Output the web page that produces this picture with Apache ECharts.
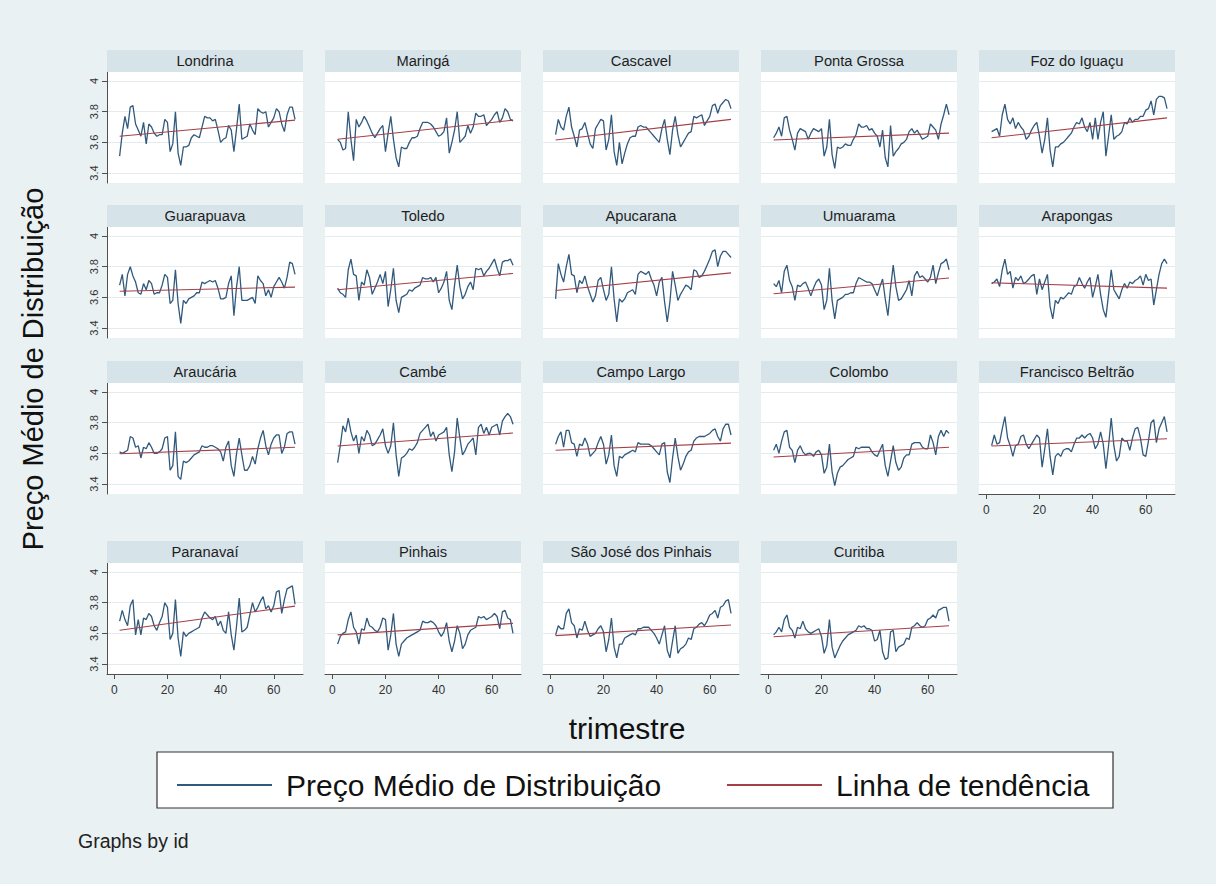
<!DOCTYPE html>
<html>
<head>
<meta charset="utf-8">
<title>Preço Médio de Distribuição por município</title>
<script src="https://cdn.jsdelivr.net/npm/echarts@6/dist/echarts.min.js"></script>
<style>
  html, body { margin: 0; padding: 0; background: #eaf1f3; }
  #chart { width: 1216px; height: 884px; }
</style>
</head>
<body>
<div id="chart"></div>
<script>
// Panel order (row by row) and quarterly average distribution prices, trimestre 2..68
const cities = [
  'Londrina', 'Maringá', 'Cascavel', 'Ponta Grossa', 'Foz do Iguaçu',
  'Guarapuava', 'Toledo', 'Apucarana', 'Umuarama', 'Arapongas',
  'Araucária', 'Cambé', 'Campo Largo', 'Colombo', 'Francisco Beltrão',
  'Paranavaí', 'Pinhais', 'São José dos Pinhais', 'Curitiba'
];
const firstQuarter = 2;

const londrina = [3.51,3.66,3.77,3.69,3.83,3.84,3.72,3.68,3.64,3.73, 3.59,3.72,3.70,3.66,3.64,3.65,3.65,3.75,3.73,3.54, 3.59,3.80,3.53,3.45,3.57,3.57,3.58,3.63,3.65,3.64, 3.63,3.70,3.77,3.76,3.76,3.74,3.75,3.68,3.60,3.62, 3.63,3.71,3.68,3.54,3.69,3.85,3.62,3.63,3.64,3.72, 3.68,3.65,3.82,3.80,3.79,3.80,3.70,3.73,3.76,3.82, 3.80,3.72,3.67,3.78,3.83,3.83,3.75];
const maringa = [3.62,3.60,3.55,3.56,3.80,3.62,3.48,3.75,3.70,3.73, 3.77,3.74,3.70,3.66,3.63,3.66,3.69,3.71,3.54,3.66, 3.77,3.62,3.50,3.44,3.57,3.56,3.56,3.60,3.63,3.63, 3.64,3.69,3.73,3.73,3.73,3.72,3.70,3.67,3.64,3.65, 3.67,3.76,3.53,3.60,3.68,3.80,3.60,3.62,3.64,3.71, 3.66,3.70,3.79,3.77,3.77,3.78,3.71,3.73,3.75,3.78, 3.80,3.73,3.76,3.82,3.80,3.75,3.74];
const cascavel = [3.65,3.75,3.70,3.68,3.77,3.83,3.70,3.64,3.57,3.68, 3.69,3.73,3.66,3.59,3.56,3.69,3.72,3.75,3.74,3.55, 3.62,3.78,3.54,3.45,3.60,3.46,3.53,3.59,3.63,3.64, 3.64,3.70,3.71,3.70,3.70,3.68,3.66,3.64,3.62,3.60, 3.69,3.75,3.62,3.52,3.68,3.77,3.65,3.57,3.60,3.63, 3.66,3.67,3.77,3.76,3.77,3.78,3.71,3.74,3.77,3.84, 3.85,3.79,3.84,3.86,3.88,3.87,3.82];
const pontaGrossa = [3.63,3.66,3.70,3.64,3.76,3.77,3.68,3.62,3.55,3.66, 3.69,3.68,3.67,3.62,3.66,3.69,3.68,3.67,3.69,3.51, 3.57,3.75,3.52,3.43,3.57,3.56,3.57,3.59,3.58,3.58, 3.62,3.65,3.72,3.70,3.70,3.71,3.68,3.69,3.66,3.64, 3.57,3.68,3.50,3.44,3.71,3.51,3.54,3.56,3.59,3.60, 3.62,3.67,3.69,3.66,3.68,3.65,3.62,3.63,3.64,3.72, 3.70,3.68,3.62,3.72,3.78,3.85,3.78];
const fozDoIguacu = [3.67,3.68,3.69,3.64,3.78,3.85,3.75,3.72,3.76,3.69, 3.73,3.70,3.68,3.62,3.64,3.68,3.71,3.73,3.64,3.53, 3.62,3.76,3.55,3.44,3.57,3.57,3.59,3.60,3.62,3.64, 3.66,3.70,3.73,3.72,3.76,3.70,3.67,3.73,3.62,3.76, 3.62,3.73,3.80,3.51,3.64,3.78,3.62,3.64,3.65,3.67, 3.73,3.72,3.76,3.73,3.75,3.75,3.77,3.77,3.81,3.82, 3.87,3.78,3.88,3.90,3.90,3.89,3.82];
const guarapuava = [3.68,3.75,3.61,3.75,3.80,3.74,3.70,3.63,3.62,3.69, 3.65,3.71,3.69,3.62,3.63,3.63,3.68,3.75,3.73,3.56, 3.58,3.78,3.56,3.43,3.58,3.56,3.59,3.60,3.61,3.63, 3.63,3.70,3.69,3.70,3.71,3.70,3.71,3.66,3.59,3.59, 3.60,3.69,3.74,3.48,3.67,3.80,3.58,3.58,3.58,3.59, 3.60,3.56,3.74,3.71,3.69,3.61,3.65,3.60,3.67,3.70, 3.73,3.70,3.66,3.73,3.83,3.82,3.75];
const toledo = [3.66,3.63,3.62,3.60,3.78,3.85,3.75,3.74,3.58,3.70, 3.68,3.78,3.73,3.62,3.66,3.70,3.75,3.69,3.77,3.54, 3.65,3.79,3.58,3.50,3.60,3.61,3.62,3.65,3.64,3.66, 3.67,3.68,3.73,3.72,3.72,3.73,3.70,3.73,3.63,3.66, 3.70,3.77,3.58,3.52,3.68,3.81,3.67,3.59,3.62,3.67, 3.70,3.65,3.79,3.78,3.79,3.74,3.77,3.79,3.82,3.85, 3.79,3.74,3.83,3.84,3.84,3.85,3.81];
const apucarana = [3.59,3.82,3.75,3.70,3.80,3.88,3.75,3.74,3.63,3.71, 3.69,3.74,3.67,3.62,3.57,3.61,3.71,3.73,3.65,3.58, 3.62,3.80,3.59,3.44,3.59,3.57,3.59,3.63,3.64,3.65, 3.62,3.75,3.77,3.76,3.75,3.77,3.72,3.68,3.61,3.70, 3.73,3.57,3.44,3.57,3.77,3.68,3.58,3.62,3.65,3.68, 3.67,3.65,3.78,3.77,3.73,3.74,3.77,3.81,3.85,3.90, 3.91,3.80,3.87,3.90,3.90,3.88,3.86];
const umuarama = [3.69,3.67,3.71,3.63,3.77,3.81,3.71,3.67,3.58,3.68, 3.67,3.69,3.70,3.66,3.61,3.66,3.70,3.72,3.68,3.52, 3.58,3.79,3.58,3.46,3.58,3.59,3.60,3.62,3.62,3.63, 3.63,3.69,3.73,3.72,3.71,3.70,3.70,3.69,3.65,3.61, 3.67,3.72,3.59,3.48,3.66,3.81,3.67,3.58,3.59,3.62, 3.65,3.71,3.61,3.74,3.77,3.73,3.74,3.72,3.70,3.73, 3.81,3.69,3.76,3.82,3.83,3.85,3.78];
const arapongas = [3.69,3.70,3.72,3.67,3.78,3.85,3.75,3.77,3.66,3.73, 3.71,3.74,3.69,3.70,3.72,3.74,3.75,3.62,3.72,3.65, 3.70,3.75,3.54,3.46,3.58,3.56,3.60,3.59,3.61,3.63, 3.62,3.67,3.68,3.73,3.69,3.66,3.70,3.73,3.60,3.67, 3.75,3.62,3.52,3.47,3.62,3.78,3.65,3.62,3.59,3.65, 3.69,3.66,3.70,3.69,3.71,3.72,3.74,3.68,3.75,3.71, 3.72,3.55,3.65,3.75,3.82,3.85,3.82];
const araucaria = [3.61,3.60,3.61,3.62,3.71,3.70,3.64,3.65,3.57,3.64, 3.63,3.67,3.64,3.60,3.60,3.61,3.63,3.70,3.71,3.49, 3.52,3.74,3.45,3.43,3.55,3.54,3.55,3.57,3.59,3.60, 3.61,3.65,3.64,3.64,3.65,3.65,3.64,3.63,3.61,3.55, 3.64,3.68,3.52,3.45,3.60,3.70,3.59,3.49,3.49,3.52, 3.58,3.53,3.63,3.70,3.75,3.65,3.59,3.66,3.70,3.72, 3.72,3.60,3.64,3.73,3.74,3.74,3.66];
const cambe = [3.54,3.65,3.78,3.74,3.83,3.74,3.68,3.72,3.60,3.71, 3.68,3.75,3.72,3.65,3.66,3.69,3.72,3.76,3.65,3.60, 3.65,3.80,3.59,3.45,3.57,3.58,3.60,3.63,3.62,3.64, 3.67,3.73,3.75,3.77,3.79,3.71,3.74,3.68,3.72,3.73, 3.74,3.77,3.59,3.48,3.61,3.83,3.70,3.59,3.62,3.66, 3.68,3.70,3.59,3.77,3.79,3.73,3.77,3.72,3.77,3.78, 3.79,3.72,3.81,3.84,3.86,3.84,3.79];
const campoLargo = [3.66,3.71,3.74,3.64,3.75,3.75,3.67,3.66,3.58,3.66, 3.65,3.70,3.66,3.58,3.60,3.62,3.67,3.71,3.66,3.53, 3.59,3.72,3.52,3.45,3.58,3.57,3.59,3.60,3.61,3.62, 3.61,3.67,3.66,3.66,3.66,3.66,3.65,3.63,3.61,3.59, 3.66,3.67,3.48,3.41,3.57,3.70,3.58,3.49,3.53,3.58, 3.61,3.62,3.68,3.70,3.71,3.71,3.71,3.72,3.73,3.75, 3.76,3.71,3.68,3.76,3.79,3.79,3.72];
const colombo = [3.62,3.66,3.60,3.68,3.74,3.75,3.64,3.62,3.54,3.62, 3.65,3.61,3.59,3.60,3.60,3.58,3.61,3.62,3.59,3.47, 3.51,3.66,3.48,3.39,3.47,3.51,3.52,3.54,3.56,3.57, 3.58,3.64,3.63,3.64,3.64,3.64,3.64,3.61,3.59,3.58, 3.62,3.66,3.52,3.45,3.55,3.65,3.54,3.49,3.51,3.57, 3.59,3.59,3.66,3.67,3.67,3.67,3.64,3.63,3.63,3.72, 3.67,3.59,3.71,3.75,3.71,3.75,3.73];
const franciscoBeltrao = [3.65,3.72,3.66,3.67,3.76,3.84,3.70,3.65,3.58,3.65, 3.66,3.71,3.72,3.66,3.63,3.66,3.69,3.72,3.70,3.51, 3.63,3.76,3.58,3.46,3.58,3.60,3.58,3.62,3.63,3.63, 3.61,3.66,3.70,3.70,3.72,3.70,3.72,3.73,3.70,3.63, 3.66,3.74,3.66,3.50,3.65,3.83,3.65,3.55,3.58,3.70, 3.68,3.68,3.62,3.70,3.76,3.77,3.70,3.59,3.58,3.68, 3.80,3.82,3.67,3.76,3.80,3.84,3.74];
const paranavai = [3.68,3.75,3.69,3.65,3.78,3.82,3.59,3.69,3.59,3.70, 3.69,3.73,3.71,3.65,3.62,3.67,3.71,3.80,3.77,3.56, 3.60,3.82,3.57,3.45,3.61,3.58,3.60,3.61,3.62,3.63, 3.64,3.70,3.74,3.72,3.70,3.69,3.71,3.65,3.68,3.62, 3.60,3.74,3.59,3.49,3.65,3.83,3.61,3.62,3.64,3.72, 3.80,3.74,3.77,3.81,3.84,3.76,3.78,3.74,3.78,3.87, 3.88,3.73,3.82,3.89,3.90,3.91,3.79];
const pinhais = [3.53,3.58,3.60,3.61,3.69,3.74,3.64,3.61,3.53,3.63, 3.62,3.70,3.65,3.64,3.62,3.61,3.64,3.70,3.69,3.49, 3.59,3.73,3.53,3.45,3.53,3.55,3.57,3.58,3.59,3.60, 3.61,3.62,3.68,3.67,3.67,3.68,3.67,3.65,3.61,3.58, 3.61,3.67,3.55,3.48,3.55,3.65,3.60,3.50,3.53,3.59, 3.62,3.63,3.64,3.71,3.70,3.71,3.69,3.70,3.71,3.73, 3.71,3.63,3.74,3.75,3.70,3.69,3.60];
const saoJoseDosPinhais = [3.59,3.65,3.63,3.63,3.73,3.76,3.67,3.65,3.57,3.63, 3.62,3.68,3.62,3.58,3.59,3.60,3.63,3.65,3.61,3.48, 3.56,3.70,3.51,3.44,3.53,3.53,3.57,3.58,3.59,3.60, 3.59,3.63,3.63,3.64,3.64,3.64,3.62,3.60,3.57,3.53, 3.59,3.65,3.49,3.44,3.55,3.65,3.47,3.50,3.51,3.53, 3.57,3.56,3.63,3.64,3.66,3.67,3.65,3.68,3.72,3.73, 3.75,3.70,3.77,3.78,3.81,3.82,3.73];
const curitiba = [3.59,3.61,3.64,3.61,3.69,3.72,3.64,3.62,3.57,3.64, 3.63,3.68,3.63,3.61,3.60,3.61,3.62,3.63,3.58,3.47, 3.52,3.69,3.51,3.44,3.48,3.52,3.55,3.57,3.59,3.60, 3.61,3.62,3.65,3.64,3.65,3.63,3.63,3.62,3.55,3.56, 3.62,3.48,3.43,3.44,3.61,3.62,3.48,3.51,3.52,3.53, 3.57,3.56,3.64,3.65,3.67,3.65,3.64,3.65,3.69,3.70, 3.72,3.70,3.75,3.76,3.77,3.77,3.68];

const priceSeries = [
  londrina, maringa, cascavel, pontaGrossa, fozDoIguacu,
  guarapuava, toledo, apucarana, umuarama, arapongas,
  araucaria, cambe, campoLargo, colombo, franciscoBeltrao,
  paranavai, pinhais, saoJoseDosPinhais, curitiba
];

// Fitted linear trend per municipality: value at the first and at the last quarter
const trendStart = [3.640, 3.620, 3.615, 3.615, 3.630, 3.640, 3.650, 3.645, 3.624, 3.695, 3.598, 3.648, 3.620, 3.576, 3.648, 3.620, 3.590, 3.585, 3.578];
const trendEnd   = [3.745, 3.745, 3.750, 3.660, 3.760, 3.667, 3.756, 3.760, 3.726, 3.660, 3.640, 3.733, 3.667, 3.640, 3.695, 3.778, 3.665, 3.655, 3.650];

const quarterTicks = [0, 20, 40, 60];
const priceTicks = [3.4, 3.6, 3.8, 4];

const seriesPriceName = 'Preço Médio de Distribuição';
const seriesTrendName = 'Linha de tendência';

// ---- layout ----
const FONT = '"Liberation Sans", Arial, Helvetica, sans-serif';
const COLS = 5;
const plotW = 196, plotH = 111, stripH = 22;
const colLeft = c => 107 + 218 * c;
const rowTop = [72, 227, 383, 563];
const xRange = { min: -2.75, max: 71 };
const yRange = { min: 3.335, max: 4.059 };
const priceColor = '#31597c';
const trendColor = '#a43f47';
const axisColor = '#505050';

const grids = [], xAxes = [], yAxes = [], series = [], graphics = [];

cities.forEach((name, i) => {
  const r = Math.floor(i / COLS), c = i % COLS;
  const left = colLeft(c), top = rowTop[r];
  const isLeft = c === 0;
  const isBottom = r === 3 || (r === 2 && i + COLS >= cities.length);

  grids.push({ left, top, width: plotW, height: plotH, show: true,
    backgroundColor: '#ffffff', borderWidth: 0 });

  xAxes.push({
    gridIndex: i, type: 'value', min: xRange.min, max: xRange.max,
    axisLine: { show: isBottom, onZero: false, lineStyle: { color: axisColor, width: 1 } },
    axisTick: { show: isBottom, length: 5, customValues: quarterTicks, lineStyle: { color: axisColor } },
    axisLabel: { show: isBottom, customValues: quarterTicks, margin: 10,
      fontSize: 12, color: '#333', fontFamily: FONT },
    splitLine: { show: false }
  });

  yAxes.push({
    gridIndex: i, type: 'value', min: yRange.min, max: yRange.max,
    axisLine: { show: isLeft, onZero: false, lineStyle: { color: axisColor, width: 1 } },
    axisTick: { show: isLeft, length: 5, customValues: priceTicks, lineStyle: { color: axisColor } },
    axisLabel: { show: isLeft, customValues: priceTicks, rotate: 90, margin: 8,
      fontSize: 11, color: '#333', fontFamily: FONT },
    splitLine: { show: true, lineStyle: { color: '#e4ebee', width: 1 } }
  });

  const values = priceSeries[i];
  series.push({
    name: seriesPriceName, type: 'line', xAxisIndex: i, yAxisIndex: i,
    data: values.map((v, k) => [firstQuarter + k, v]),
    symbol: 'none', silent: true, z: 3,
    lineStyle: { color: priceColor, width: 1.3 }, itemStyle: { color: priceColor }
  });
  const lastQuarter = firstQuarter + values.length - 1;
  series.push({
    name: seriesTrendName, type: 'line', xAxisIndex: i, yAxisIndex: i,
    data: [[firstQuarter, trendStart[i]], [lastQuarter, trendEnd[i]]],
    symbol: 'none', silent: true, z: 4,
    lineStyle: { color: trendColor, width: 1.1 }, itemStyle: { color: trendColor }
  });

  // panel header strip with the municipality name
  graphics.push({ type: 'rect', z: 1, silent: true,
    shape: { x: left, y: top - stripH, width: plotW, height: stripH },
    style: { fill: '#d6e3e9' } });
  graphics.push({ type: 'text', z: 2, silent: true, x: left + plotW / 2, y: top - stripH / 2,
    style: { text: name, fill: '#1e1e1e', font: '14.7px ' + FONT, align: 'center', verticalAlign: 'middle' } });
});

// axis titles, legend frame and note
graphics.push({ type: 'text', z: 2, silent: true, x: 33, y: 369, rotation: Math.PI / 2,
  style: { text: 'Preço Médio de Distribuição', fill: '#111', font: '29px ' + FONT,
    align: 'center', verticalAlign: 'middle' } });
graphics.push({ type: 'text', z: 2, silent: true, x: 627, y: 728,
  style: { text: 'trimestre', fill: '#111', font: '30px ' + FONT,
    align: 'center', verticalAlign: 'middle' } });
graphics.push({ type: 'rect', z: 0, silent: true,
  shape: { x: 157, y: 752, width: 956, height: 56 },
  style: { fill: '#ffffff', stroke: '#333', lineWidth: 1.2 } });
graphics.push({ type: 'text', z: 2, silent: true, x: 78, y: 841,
  style: { text: 'Graphs by id', fill: '#222', font: '19.5px ' + FONT,
    align: 'left', verticalAlign: 'middle' } });

const legendCommon = {
  orient: 'horizontal', itemWidth: 95, itemHeight: 2, z: 10,
  selectedMode: false, icon: 'rect', top: 765,
  textStyle: { fontSize: 30, color: '#111', fontFamily: FONT, padding: [0, 0, 0, 9] }
};

const chart = echarts.init(document.getElementById('chart'), null,
  { renderer: 'svg', width: 1216, height: 884 });

chart.setOption({
  animation: false,
  backgroundColor: '#eaf1f3',
  textStyle: { fontFamily: FONT },
  grid: grids,
  xAxis: xAxes,
  yAxis: yAxes,
  series,
  legend: [
    Object.assign({}, legendCommon, { data: [seriesPriceName], left: 172,
      itemStyle: { color: priceColor } }),
    Object.assign({}, legendCommon, { data: [seriesTrendName], left: 722,
      itemStyle: { color: trendColor } })
  ],
  graphic: { elements: graphics }
});
</script>
</body>
</html>
